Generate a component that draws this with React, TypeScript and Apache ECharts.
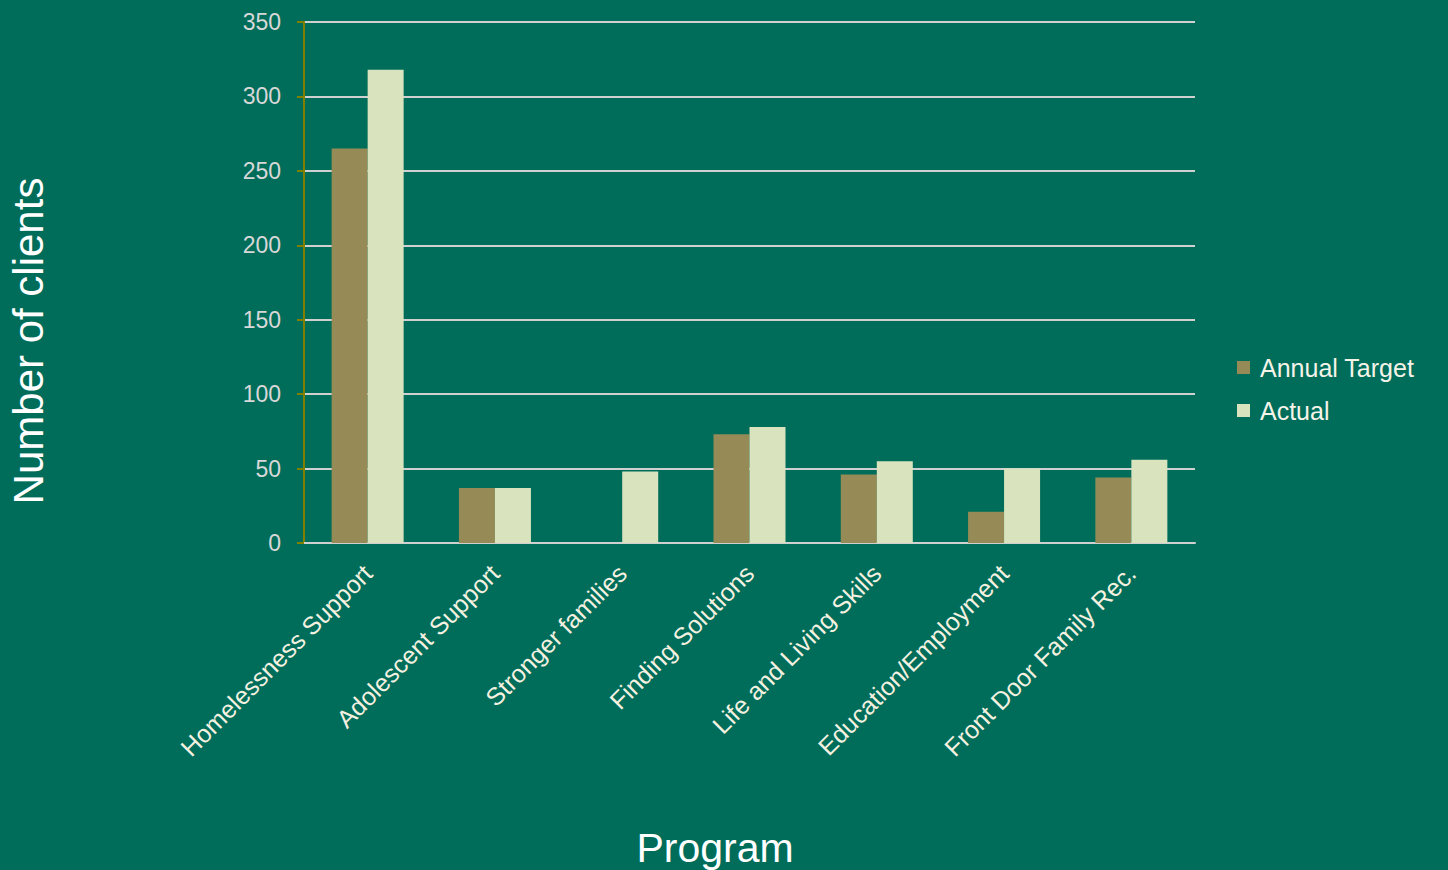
import React, { useEffect, useRef } from "react";
import * as echarts from "echarts";

const categories = [
  "Homelessness Support",
  "Adolescent Support",
  "Stronger families",
  "Finding Solutions",
  "Life and Living Skills",
  "Education/Employment",
  "Front Door Family Rec.",
];
const annualTarget = [265, 37, 0, 73, 46, 21, 44];
const actual = [318, 37, 48, 78, 55, 50, 56];
const yTicks = { min: 0, max: 350, interval: 50 };

const FONT = "'Liberation Sans', Arial, sans-serif";

export default function App() {
  const ref = useRef<HTMLDivElement>(null);
  useEffect(() => {
    if (!ref.current) return;
    const chart = echarts.init(ref.current, null, { renderer: "svg" });
    chart.setOption({
      animation: false,
      backgroundColor: "#006D5A",
      textStyle: { fontFamily: FONT },
      grid: { left: 304, right: 253, top: 22, bottom: 327, containLabel: false },
      legend: {
        orient: "vertical",
        left: 1232,
        top: 350,
        itemWidth: 13,
        itemHeight: 13,
        itemGap: 18,
        icon: "rect",
        textStyle: { color: "#F5F3E8", fontSize: 25, fontFamily: FONT, padding: [0, 0, 0, 5] },
        data: ["Annual Target", "Actual"],
      },
      xAxis: {
        type: "category",
        data: categories,
        axisLine: { show: true, lineStyle: { color: "#D0D0D0", width: 2 } },
        axisTick: { show: false },
        axisLabel: {
          rotate: 45,
          margin: 26,
          color: "#F5F1E0",
          fontSize: 25,
          fontFamily: FONT,
          interval: 0,
        },
      },
      yAxis: {
        type: "value",
        min: yTicks.min,
        max: yTicks.max,
        interval: yTicks.interval,
        axisLine: { show: true, lineStyle: { color: "#808000", width: 2 } },
        axisTick: { show: true, length: 7, lineStyle: { color: "#808000", width: 2 } },
        axisLabel: { color: "#D8D8D8", fontSize: 23, margin: 23, fontFamily: FONT },
        splitLine: { show: true, lineStyle: { color: "#D0D0D0", width: 2 } },
      },
      series: [
        {
          name: "Annual Target",
          type: "bar",
          data: annualTarget,
          barWidth: 36,
          barGap: "0%",
          itemStyle: { color: "#968B56" },
        },
        {
          name: "Actual",
          type: "bar",
          data: actual,
          barWidth: 36,
          barGap: "0%",
          itemStyle: { color: "#D9E4BF" },
        },
      ],
      graphic: [
        {
          type: "text",
          x: 715,
          y: 848,
          style: {
            text: "Program",
            fill: "#FFFFFF",
            font: `41px ${FONT}`,
            align: "center",
            verticalAlign: "middle",
          },
        },
        {
          type: "text",
          x: 28,
          y: 341,
          rotation: Math.PI / 2,
          style: {
            text: "Number of clients",
            fill: "#FFFFFF",
            font: `42px ${FONT}`,
            align: "center",
            verticalAlign: "middle",
          },
        },
      ],
    });
    return () => chart.dispose();
  }, []);
  return (
    <div
      ref={ref}
      style={{ position: "fixed", left: 0, top: 0, width: 1448, height: 870 }}
    />
  );
}
